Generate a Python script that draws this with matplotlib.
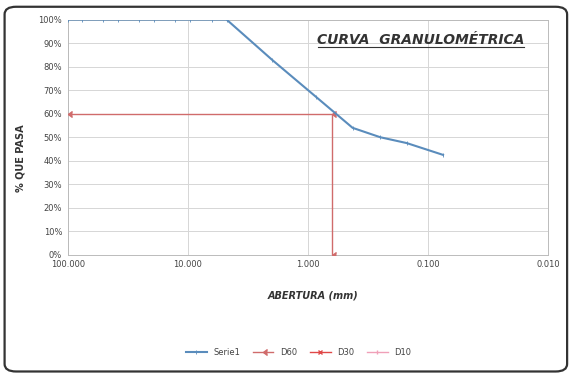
import matplotlib
matplotlib.use("Agg")
import matplotlib.pyplot as plt
from matplotlib.patches import FancyBboxPatch
from matplotlib.lines import Line2D
from matplotlib.ticker import FixedLocator, FuncFormatter
import numpy as np

# tamices (mm) y % que pasa
abertura = [100.0, 76.2, 50.8, 38.1, 25.4, 19.05, 12.7, 9.525, 6.35, 4.76,
            2.0, 0.85, 0.425, 0.25, 0.15, 0.075]
pasa = [100, 100, 100, 100, 100, 100, 100, 100, 100, 100,
        83, 67, 54, 50, 47.5, 42.5]

# lineas D60 / D30 / D10
d60_x = [100.0, 0.63, 0.63]
d60_y = [60, 60, 0]
d30_x = []
d30_y = []
d10_x = []
d10_y = []

x_ticks = [100, 10, 1, 0.1, 0.01]
y_ticks = list(range(0, 101, 10))

fig = plt.figure(figsize=(5.74, 3.76), dpi=100)
fig.patch.set_facecolor("white")
fig.patches.append(FancyBboxPatch((0.008, 0.012), 0.98, 0.97, boxstyle="round,pad=0,rounding_size=0.02",
                                  transform=fig.transFigure, fill=False, edgecolor="#333333", lw=1.6))

ax = fig.add_axes([0.118, 0.322, 0.837, 0.626])
ax.plot(abertura, pasa, color="#5a8cbc", lw=1.5, marker="|", ms=3, mew=0.6, label="Serie1", zorder=4)
ax.plot(d60_x, d60_y, color="#d06b6b", lw=1.0, marker=4, ms=4, label="D60", zorder=3)
ax.plot(d30_x, d30_y, color="#e04848", lw=1.0, marker="x", ms=3, label="D30")
ax.plot(d10_x, d10_y, color="#f0a0b8", lw=1.0, marker="|", ms=3, label="D10")

ax.set_xscale("log")
ax.set_xlim(100, 0.01)
ax.set_ylim(0, 100)
ax.xaxis.set_major_locator(FixedLocator(x_ticks))
ax.xaxis.set_minor_locator(FixedLocator([]))
ax.xaxis.set_major_formatter(FuncFormatter(lambda v, p: f"{v:.3f}"))
ax.set_yticks(y_ticks)
ax.yaxis.set_major_formatter(FuncFormatter(lambda v, p: f"{int(v)}%"))
ax.tick_params(labelsize=6, length=0, colors="#444444", pad=4)
ax.grid(True, color="#d6d6d6", lw=0.7)
ax.set_axisbelow(True)
for s in ax.spines.values():
    s.set_color("#bbbbbb")
    s.set_linewidth(0.7)

ax.text(0.735, 0.915, "CURVA  GRANULOMÉTRICA", transform=ax.transAxes, ha="center", va="center",
        fontsize=10, fontstyle="italic", fontweight="bold", color="#333333")
ax.add_line(Line2D([0.52, 0.95], [0.882, 0.882], transform=ax.transAxes, color="#333333", lw=0.8))

fig.text(0.545, 0.215, "ABERTURA (mm)", ha="center", va="center", fontsize=7,
         fontstyle="italic", fontweight="bold", color="#333333")
fig.text(0.035, 0.58, "% QUE PASA", ha="center", va="center", rotation=90, fontsize=7,
         fontweight="bold", color="#333333")

fig.legend(loc="center", bbox_to_anchor=(0.52, 0.063), ncol=4, frameon=False, fontsize=6,
           handlelength=2.5, columnspacing=1.5, labelcolor="#444444")

fig.savefig("out.png", dpi=100)
